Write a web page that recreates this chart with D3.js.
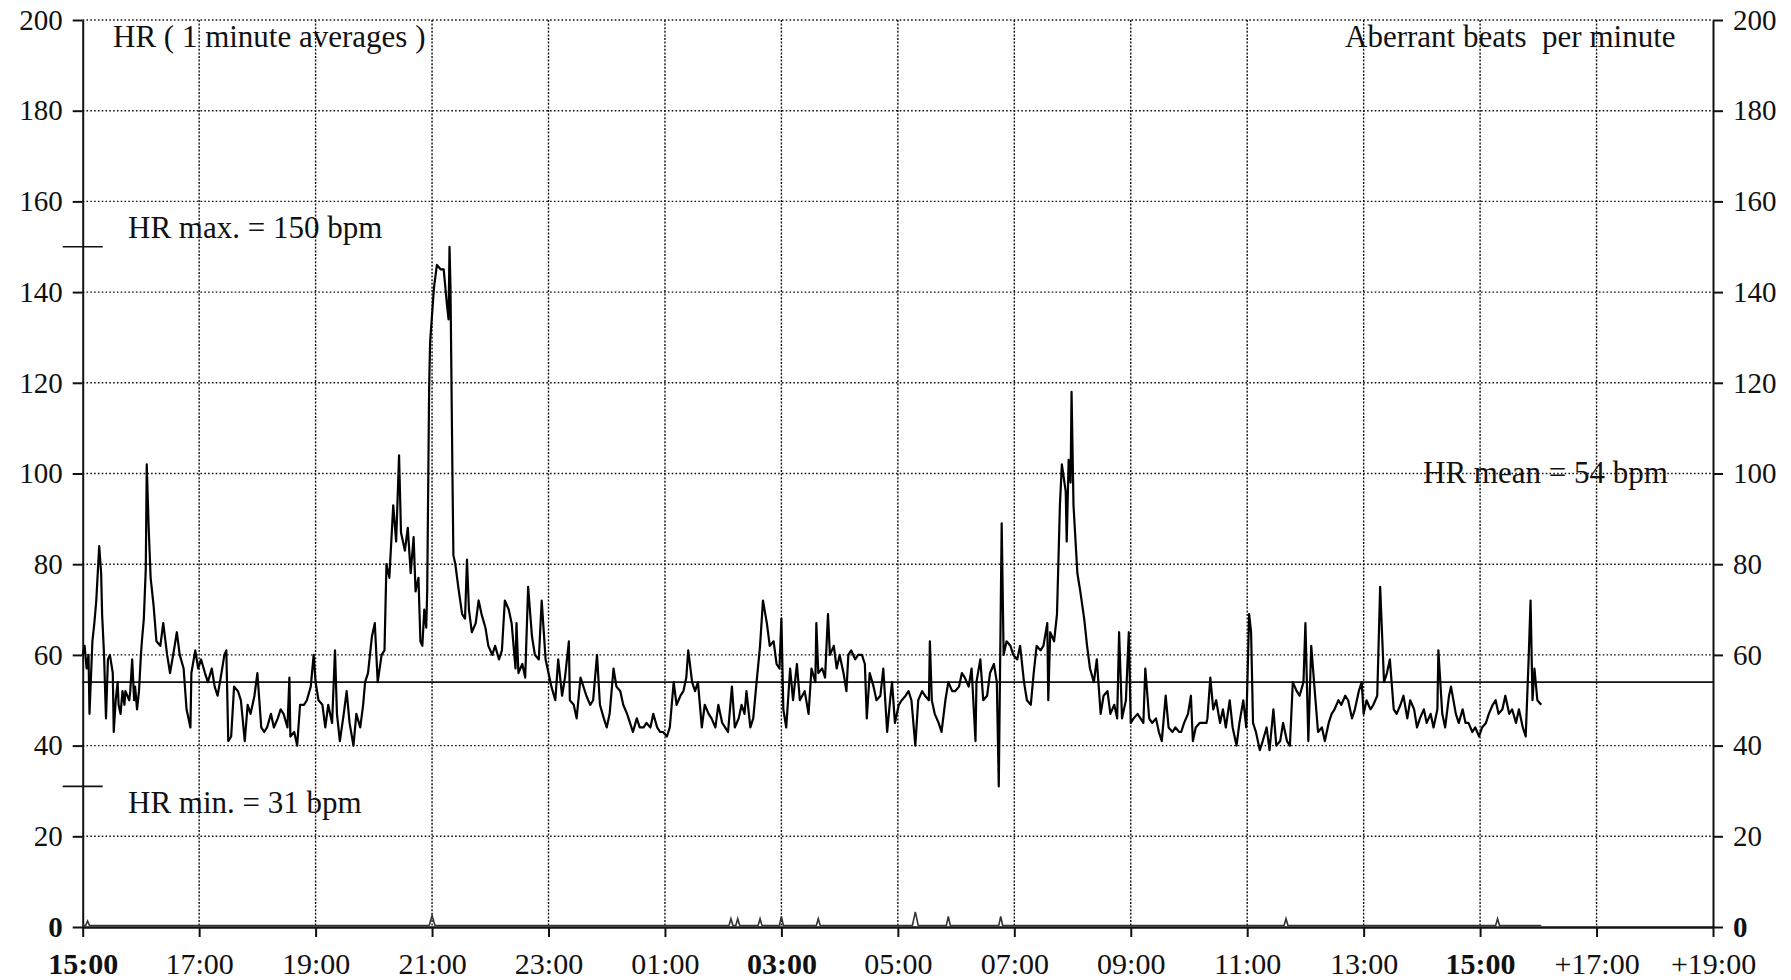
<!DOCTYPE html>
<html lang="en">
<head>
<meta charset="UTF-8">
<title>HR ( 1 minute averages )</title>
<script src="https://d3js.org/d3.v7.min.js"></script>
<style>
  body { margin: 0; padding: 0; background: #fff; overflow: hidden; }
  svg { display: block; font-family: "Liberation Serif", "Times New Roman", serif; }
  .grid-h { stroke: #111; stroke-width: 1.4px; stroke-dasharray: 1.6 2.2; }
  .grid-v { stroke: #111; stroke-width: 1.4px; stroke-dasharray: 2 1.6; }
  .axis path, .axis line { stroke: #111; stroke-width: 2px; }
  .axis text { fill: #111; font-size: 29px; font-family: "Liberation Serif", serif; }
  .axis-x text { font-size: 30px; }
  .note { fill: #111; font-size: 31px; white-space: pre; }
</style>
</head>
<body>
<script>
// HR, minutes since 15:00 and bpm
const hrMinutes = [
  0, 2, 4, 6, 7, 10, 12, 14, 17, 19, 20, 22, 24, 26, 28, 31, 32, 34, 36, 37, 39, 41, 43, 44, 48, 49, 51, 53, 54, 56, 58,
  60, 61, 63, 65, 66, 68, 70, 73, 76, 80, 83, 87, 90, 94, 97, 100, 104, 107, 111, 112, 116, 119, 122, 126, 129, 133, 136, 139, 143, 146, 148,
  150, 153, 156, 160, 163, 167, 170, 173, 177, 180, 184, 187, 190, 194, 197, 201, 204, 207, 211, 213, 214, 218, 221, 224, 228, 231, 235, 238,
  240, 243, 247, 250, 253, 257, 260, 262, 265, 269, 272, 275, 279, 282, 286, 289, 291, 294, 298, 301, 304, 308, 311, 313, 316, 320, 323, 326, 328,
  332, 335, 338, 341, 343, 346, 348, 350, 352, 354, 355, 357, 358, 362, 365, 369, 372, 375, 377, 378, 379, 381, 382, 384, 387, 391, 394, 396, 398,
  401, 405, 408, 411, 415, 418, 422, 425, 429, 432, 435, 439, 442, 446, 447, 449, 453, 456, 459, 463, 466, 470, 473, 477,
  480, 483, 487, 490, 494, 497, 501, 502, 506, 509, 513, 516, 519, 523, 526, 530, 533, 537, 540, 543, 547, 550, 554, 557, 561, 564, 567, 571, 574, 578,
  581, 585, 588, 592, 595, 598, 602, 605, 609, 612, 616, 619, 622, 624, 628, 631, 634, 638, 641, 645, 648, 652, 655, 659, 662, 665, 669, 672, 676, 679,
  682, 684, 688, 691, 694, 698, 701, 705, 708, 712, 715, 718, 720, 722, 725, 729, 732, 736, 739,
  744, 748, 751, 755, 756, 758, 762, 765, 768, 770, 774, 777, 780, 784, 787, 789, 792, 796, 799, 803, 806, 808, 811, 815, 818, 822, 825, 829, 832, 834, 837,
  841, 844, 848, 851, 854, 858, 861, 865, 868, 872, 873, 875, 878, 882, 885, 889, 892, 896, 899, 903, 906, 909, 913, 916, 920, 921, 925, 928, 932, 935, 939,
  942, 944, 947, 949, 952, 956, 959, 963, 966, 970, 973, 977, 980, 983, 987, 990, 994, 995, 997, 1001, 1004, 1007, 1009, 1013, 1014, 1016, 1018, 1019, 1021,
  1025, 1028, 1032, 1035, 1038, 1042, 1045, 1049, 1052, 1056, 1059, 1063, 1066, 1068, 1071, 1075, 1078, 1080, 1083, 1087, 1090, 1093, 1095, 1099,
  1102, 1106, 1109, 1112, 1116, 1119, 1123, 1126, 1130,
  1132, 1135, 1139, 1142, 1144, 1147, 1151, 1154, 1158, 1159, 1162, 1165, 1168, 1172, 1175, 1178, 1182, 1185, 1189, 1192, 1196, 1199,
  1202, 1204, 1206, 1209, 1213, 1216, 1220, 1223, 1227, 1230, 1234, 1237, 1241, 1244, 1247, 1251, 1254, 1258, 1260, 1263, 1266, 1270, 1273, 1277,
  1280, 1284, 1287, 1290, 1294, 1297, 1301, 1304, 1308, 1311, 1315, 1318, 1320, 1323, 1327, 1330, 1334, 1337, 1341, 1344, 1347, 1351, 1354, 1358,
  1361, 1365, 1368, 1372, 1375, 1378, 1382, 1385, 1389, 1392, 1396, 1397, 1401, 1404, 1408, 1410, 1415, 1418, 1422, 1425, 1428, 1432, 1435, 1439,
  1442, 1446, 1449, 1453, 1456, 1459, 1463, 1466, 1470, 1473, 1477, 1480, 1484, 1487, 1490, 1492, 1494, 1496, 1499, 1503
];
const hrBpm = [
  60, 62, 57, 60, 47, 63, 67, 72, 84, 78, 69, 60, 46, 59, 60, 56, 43, 50, 54, 49, 47, 52, 49, 52, 50, 52, 59, 50, 53, 48, 52,
  60, 63, 68, 79, 102, 88, 77, 71, 63, 62, 67, 60, 56, 61, 65, 60, 57, 48, 44, 56, 61, 57, 59, 56, 54, 57, 53, 51, 56, 60, 61,
  41, 42, 53, 52, 50, 41, 49, 47, 51, 56, 44, 43, 44, 47, 44, 46, 48, 47, 44, 55, 42, 43, 40, 49, 49, 50, 53, 60,
  54, 50, 49, 44, 49, 45, 61, 47, 41, 47, 52, 45, 40, 47, 44, 49, 54, 56, 64, 67, 54, 60, 61, 80, 77, 93, 85, 104, 87,
  83, 88, 78, 86, 74, 77, 63, 62, 70, 66, 74, 119, 129, 141, 146, 145, 145, 138, 134, 150, 141, 100, 82, 80, 75, 69, 68, 81, 70,
  65, 67, 72, 69, 66, 62, 60, 62, 59, 61, 72, 70, 67, 57, 67, 56, 58, 55, 75, 64, 60, 59, 72, 59,
  56, 53, 50, 59, 51, 55, 63, 50, 49, 46, 55, 53, 51, 49, 50, 60, 49, 46, 44, 47, 57, 53, 52, 49, 47, 45, 43, 46, 44, 44,
  45, 44, 47, 44, 43, 43, 42, 44, 54, 49, 51, 52, 55, 61, 54, 52, 54, 44, 49, 47, 46, 44, 49, 45, 44, 43, 53, 44, 46, 49,
  47, 52, 44, 46, 53, 62, 72, 67, 62, 63, 58, 57, 68, 48, 44, 57, 50, 58, 50,
  52, 47, 57, 54, 67, 56, 57, 55, 69, 60, 62, 57, 60, 56, 52, 60, 61, 59, 60, 60, 58, 46, 56, 53, 50, 51, 57, 43, 50, 54, 45,
  49, 50, 51, 52, 50, 40, 50, 52, 51, 50, 63, 50, 47, 45, 43, 50, 54, 52, 52, 53, 56, 55, 53, 57, 41, 54, 59, 50, 51, 56, 58,
  54, 31, 89, 60, 63, 62, 60, 59, 62, 54, 50, 49, 56, 62, 61, 62, 67, 50, 65, 63, 69, 93, 102, 96, 85, 103, 98, 118, 93,
  78, 74, 68, 62, 57, 54, 59, 47, 51, 52, 47, 49, 46, 65, 46, 50, 65, 45, 46, 47, 46, 45, 57, 46,
  45, 46, 43, 41, 51, 44, 43, 44, 43,
  43, 45, 47, 51, 41, 44, 45, 45, 45, 46, 55, 48, 50, 45, 48, 44, 50, 44, 40, 45, 50, 44,
  69, 65, 45, 43, 39, 41, 44, 39, 48, 40, 41, 45, 41, 40, 54, 52, 51, 54, 67, 41, 62, 51, 43, 44,
  41, 45, 47, 48, 50, 49, 51, 50, 46, 48, 52, 54, 47, 50, 48, 49, 51, 75, 54, 56, 59, 48, 47, 49,
  51, 46, 50, 48, 44, 46, 48, 45, 47, 44, 48, 61, 47, 44, 51, 53, 47, 45, 48, 45, 45, 43, 44, 42,
  44, 45, 47, 49, 50, 47, 48, 51, 47, 48, 45, 48, 44, 42, 59, 72, 50, 57, 50, 49
];

// aberrant beats per minute (mostly zero, small blips)
const abMinutes = [0, 3, 5, 7, 357, 360, 363, 666, 668, 670, 673, 675, 677, 696, 698, 700, 718, 720, 722,
  756, 758, 760, 855, 858, 861, 890, 892, 894, 944, 946, 948, 1238, 1240, 1242, 1456, 1458, 1460, 1503];
const abBeats = [0, 0, 1, 0, 0, 2.2, 0, 0, 1.5, 0, 0, 1.5, 0, 0, 1.5, 0, 0, 2, 0,
  0, 1.5, 0, 0, 3, 0, 0, 2, 0, 0, 2, 0, 0, 1.5, 0, 0, 1.5, 0, 0];

const timeTicks = [0, 120, 240, 360, 480, 600, 720, 840, 960, 1080, 1200, 1320, 1440, 1560, 1680];
const timeLabels = ["15:00", "17:00", "19:00", "21:00", "23:00", "01:00", "03:00", "05:00",
  "07:00", "09:00", "11:00", "13:00", "15:00", "+17:00", "+19:00"];
const boldTimeLabels = [0, 6, 12];
const yTicks = [0, 20, 40, 60, 80, 100, 120, 140, 160, 180, 200];

const hrMax = 150, hrMin = 31, hrMean = 54;

const W = 1791, H = 980;
const plotLeft = 82.7, plotRight = 1713, plotTop = 20, plotBottom = 927;

const svg = d3.select("body").append("svg")
  .attr("width", W)
  .attr("height", H);

const x = d3.scaleLinear().domain([0, 1680]).range([plotLeft, plotRight]);
const y = d3.scaleLinear().domain([0, 200]).range([plotBottom, plotTop]);

// grid
svg.append("g").selectAll("line")
  .data(yTicks.filter(d => d > 0))
  .enter().append("line")
  .attr("class", "grid-h")
  .attr("x1", plotLeft).attr("x2", plotRight)
  .attr("y1", d => y(d)).attr("y2", d => y(d));

svg.append("g").selectAll("line")
  .data(timeTicks.slice(1, -1))
  .enter().append("line")
  .attr("class", "grid-v")
  .attr("x1", d => x(d)).attr("x2", d => x(d))
  .attr("y1", plotTop).attr("y2", plotBottom);

// axes
const yLeft = svg.append("g")
  .attr("class", "axis")
  .attr("transform", `translate(${plotLeft},0)`)
  .call(d3.axisLeft(y).tickValues(yTicks).tickSize(10).tickSizeOuter(0).tickPadding(10));

const yRight = svg.append("g")
  .attr("class", "axis")
  .attr("transform", `translate(${plotRight},0)`)
  .call(d3.axisRight(y).tickValues(yTicks).tickSize(10).tickSizeOuter(0).tickPadding(10));

[yLeft, yRight].forEach(a => a.selectAll(".tick text")
  .style("font-weight", d => d === 0 ? "bold" : "normal"));

const xAxis = svg.append("g")
  .attr("class", "axis axis-x")
  .attr("transform", `translate(0,${plotBottom})`)
  .call(d3.axisBottom(x).tickValues(timeTicks).tickFormat((d, i) => timeLabels[i])
    .tickSize(10).tickSizeOuter(0).tickPadding(16));

xAxis.select(".domain").style("stroke-width", "2.5px");
xAxis.selectAll(".tick text")
  .style("font-weight", (d, i) => boldTimeLabels.includes(i) ? "bold" : "normal");

// mean line
svg.append("line")
  .attr("x1", plotLeft).attr("x2", plotRight)
  .attr("y1", y(hrMean)).attr("y2", y(hrMean))
  .attr("stroke", "#111")
  .attr("stroke-width", 1.6);

// max / min markers
[hrMax, hrMin].forEach(v => {
  svg.append("line")
    .attr("x1", plotLeft - 20).attr("x2", plotLeft + 20)
    .attr("y1", y(v)).attr("y2", y(v))
    .attr("stroke", "#111")
    .attr("stroke-width", 1.6);
});

// aberrant beats
const abData = abMinutes.map((m, i) => ({ m: m, v: abBeats[i] }));
svg.append("path")
  .datum(abData)
  .attr("fill", "none")
  .attr("stroke", "#333")
  .attr("stroke-width", 1.6)
  .attr("d", d3.line().x(d => x(d.m)).y(d => y(d.v) - 1.5));

// HR trace
const hrData = hrMinutes.map((m, i) => ({ m: m, v: hrBpm[i] }));
svg.append("path")
  .datum(hrData)
  .attr("fill", "none")
  .attr("stroke", "#000")
  .attr("stroke-width", 2.2)
  .attr("stroke-linejoin", "round")
  .attr("d", d3.line().defined(d => d.v != null).x(d => x(d.m)).y(d => y(d.v)));

// texts
svg.append("text").attr("class", "note")
  .attr("x", 113).attr("y", 47)
  .text("HR ( 1 minute averages )");

svg.append("text").attr("class", "note")
  .attr("x", 1345).attr("y", 47)
  .text("Aberrant beats  per minute");

svg.append("text").attr("class", "note")
  .attr("x", 128).attr("y", 238)
  .text(`HR max. = ${hrMax} bpm`);

svg.append("text").attr("class", "note")
  .attr("x", 128).attr("y", 813)
  .text(`HR min. = ${hrMin} bpm`);

svg.append("text").attr("class", "note")
  .attr("x", 1423).attr("y", 483)
  .text(`HR mean = ${hrMean} bpm`);

if (hrMinutes.length !== hrBpm.length || abMinutes.length !== abBeats.length) {
  throw new Error(`length mismatch ${hrMinutes.length} ${hrBpm.length} ${abMinutes.length} ${abBeats.length}`);
}
</script>
</body>
</html>
